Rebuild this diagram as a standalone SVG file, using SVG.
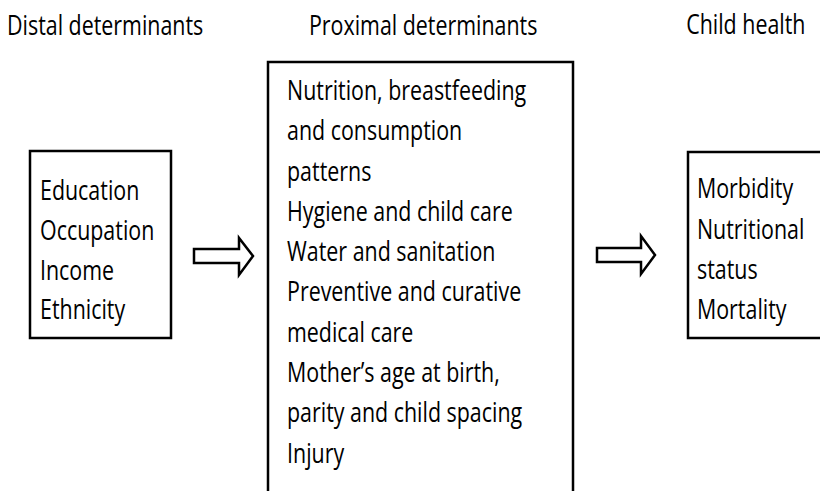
<svg xmlns="http://www.w3.org/2000/svg" width="820" height="491" viewBox="0 0 820 491">
  <style>
    .box { fill: #fff; stroke: #000; stroke-width: 2.5; }
    .arrow { fill: #fff; stroke: #000; stroke-width: 2.5; stroke-linejoin: miter; }
    .t { font-family: "Open Sans", "Noto Sans", "Liberation Sans", sans-serif; font-size: 28px; fill: #000; }
  </style>
  <rect width="820" height="491" fill="#fff"/>

  <!-- column headings (text narrowed horizontally) -->
  <g id="headings" transform="scale(0.765,1)">
    <text class="t" x="9.15" y="35">Distal determinants</text>
    <text class="t" x="403.9" y="35">Proximal determinants</text>
    <text class="t" x="897" y="34">Child health</text>
  </g>

  <g id="distal">
    <rect class="box" x="30" y="151" width="141" height="187"/>
    <g transform="scale(0.765,1)">
      <text class="t" x="52.3" y="200">Education</text>
      <text class="t" x="52.3" y="240">Occupation</text>
      <text class="t" x="52.3" y="280">Income</text>
      <text class="t" x="52.3" y="319">Ethnicity</text>
    </g>
  </g>

  <g id="proximal">
    <rect class="box" x="268" y="62" width="305" height="460"/>
    <g transform="scale(0.765,1)">
      <text class="t" x="375.2" y="100">Nutrition, breastfeeding</text>
      <text class="t" x="375.2" y="140.3">and consumption</text>
      <text class="t" x="375.2" y="180.6">patterns</text>
      <text class="t" x="375.2" y="221">Hygiene and child care</text>
      <text class="t" x="375.2" y="261">Water and sanitation</text>
      <text class="t" x="375.2" y="301.5">Preventive and curative</text>
      <text class="t" x="375.2" y="342">medical care</text>
      <text class="t" x="375.2" y="382">Mother’s age at birth,</text>
      <text class="t" x="375.2" y="422">parity and child spacing</text>
      <text class="t" x="375.2" y="463">Injury</text>
    </g>
  </g>

  <g id="child-health">
    <rect class="box" x="688" y="152" width="200" height="186"/>
    <g transform="scale(0.765,1)">
      <text class="t" x="911.1" y="198">Morbidity</text>
      <text class="t" x="911.1" y="239">Nutritional</text>
      <text class="t" x="911.1" y="279">status</text>
      <text class="t" x="911.1" y="319">Mortality</text>
    </g>
  </g>

  <!-- block arrows between the columns -->
  <g id="connectors">
    <polygon class="arrow" points="194,249 239,249 239,238 253,256 239,275 239,263 194,263"/>
    <polygon class="arrow" points="597,248 641,248 641,236 655,255 641,274 641,262 597,262"/>
  </g>
</svg>
